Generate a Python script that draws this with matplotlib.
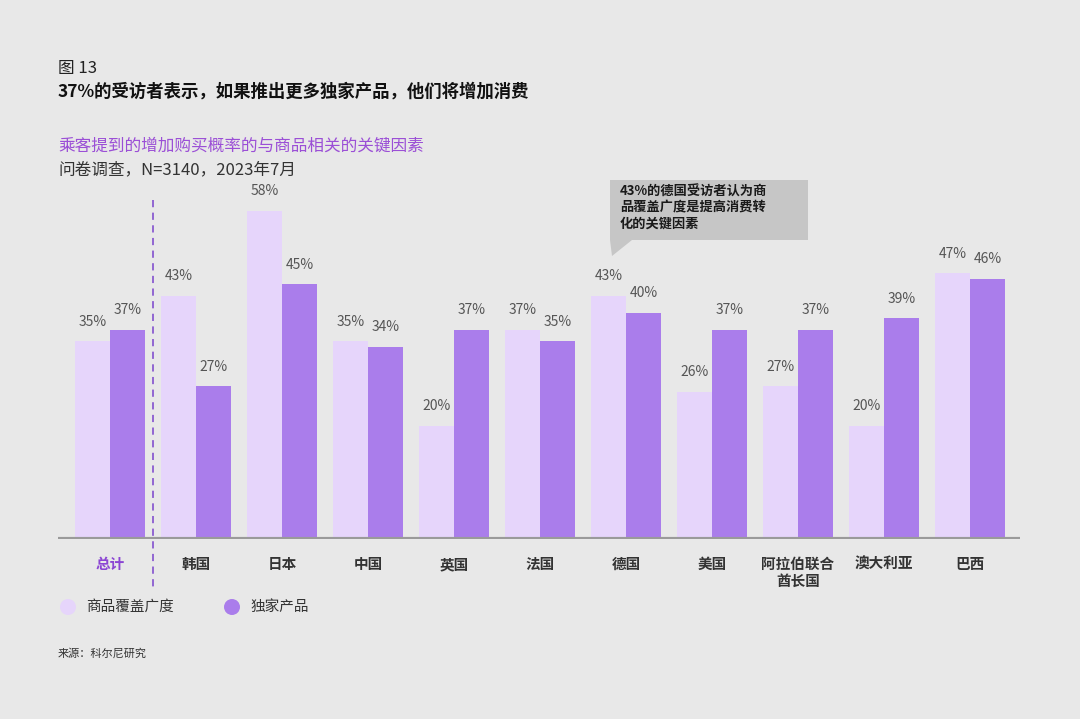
import matplotlib.pyplot as plt
from matplotlib.patches import Polygon, Ellipse
import numpy as np

plt.rcParams['font.family'] = ['Noto Sans CJK SC', 'DejaVu Sans']

# data
categories = ['总计', '韩国', '日本', '中国', '英国', '法国', '德国', '美国',
              '阿拉伯联合\n酋长国', '澳大利亚', '巴西']
coverage = [35, 43, 58, 35, 20, 37, 43, 26, 27, 20, 47]
exclusive = [37, 27, 45, 34, 37, 35, 40, 37, 37, 39, 46]
series_names = ['商品覆盖广度', '独家产品']

BG = '#e8e8e8'
LIGHT = '#e6d5fb'
DARK = '#aa7deb'
PURPLE = '#8b45d3'

fig = plt.figure(figsize=(10.8, 7.19), dpi=100, facecolor=BG)
ax = fig.add_axes([0.0537, 0.2503, 0.8907, 0.4854])
ax.set_facecolor(BG)

x = np.arange(len(categories))
w = 0.405
b1 = ax.bar(x - w / 2, coverage, w, color=LIGHT)
b2 = ax.bar(x + w / 2, exclusive, w, color=DARK)

for bars, vals in ((b1, coverage), (b2, exclusive)):
    for r, v in zip(bars, vals):
        ax.annotate(f'{v}%', (r.get_x() + r.get_width() / 2, v),
                    xytext=(0, 9), textcoords='offset points',
                    ha='center', va='bottom', fontsize=10, color='#555555')

ax.set_xlim(-0.605, 10.58)
ax.set_ylim(0, 61.7)
for s in ax.spines.values():
    s.set_visible(False)
ax.axhline(0, color='#9a9a9a', lw=3, zorder=3)
ax.set_yticks([])
ax.set_xticks([])

# category labels
for i, c in enumerate(categories):
    ax.text(i, -3.0, c, ha='center', va='top', fontsize=10.5, fontweight='bold',
            color=PURPLE if i == 0 else '#333333', linespacing=1.05)

# dashed divider
ax.plot([0.5, 0.5], [60, -8.5], ls=(0, (4, 3)), color='#8a5cd0', lw=1.3,
        clip_on=False, zorder=4)

# titles
fig.text(0.0537, 1 - 68 / 719, '图 13', fontsize=12, color='#222222', va='center')
fig.text(0.0537, 1 - 92 / 719, '37%的受访者表示，如果推出更多独家产品，他们将增加消费',
         fontsize=12.5, fontweight='bold', color='#111111', va='center')
fig.text(0.0537, 1 - 146 / 719, '乘客提到的增加购买概率的与商品相关的关键因素',
         fontsize=12, color='#9b4fd6', va='center')
fig.text(0.0537, 1 - 170 / 719, '问卷调查，N=3140，2023年7月',
         fontsize=12, color='#333333', va='center')

# callout box
def fx(px):
    return px / 1080

def fy(py):
    return 1 - py / 719

box = Polygon([(fx(610), fy(180)), (fx(808), fy(180)), (fx(808), fy(240)),
               (fx(632), fy(240)), (fx(612), fy(256)), (fx(610), fy(240))],
              closed=True, transform=fig.transFigure, facecolor='#c6c6c6',
              edgecolor='none')
fig.add_artist(box)
fig.text(fx(620), fy(185), '43%的德国受访者认为商\n品覆盖广度是提高消费转\n化的关键因素',
         fontsize=9.5, fontweight='bold', color='#1a1a1a', va='top', ha='left',
         linespacing=1.15)

# legend
for cx, col, name in ((68, LIGHT, series_names[0]), (232, DARK, series_names[1])):
    fig.add_artist(Ellipse((fx(cx), fy(607)), 16 / 1080, 16 / 719,
                           transform=fig.transFigure, facecolor=col, edgecolor='none'))
    fig.text(fx(cx + 18), fy(607), name, fontsize=10.5, color='#333333', va='center')

fig.text(0.0537, fy(653), '来源：科尔尼研究', fontsize=8, color='#333333', va='center')

fig.savefig('out.png', dpi=100, facecolor=BG)
